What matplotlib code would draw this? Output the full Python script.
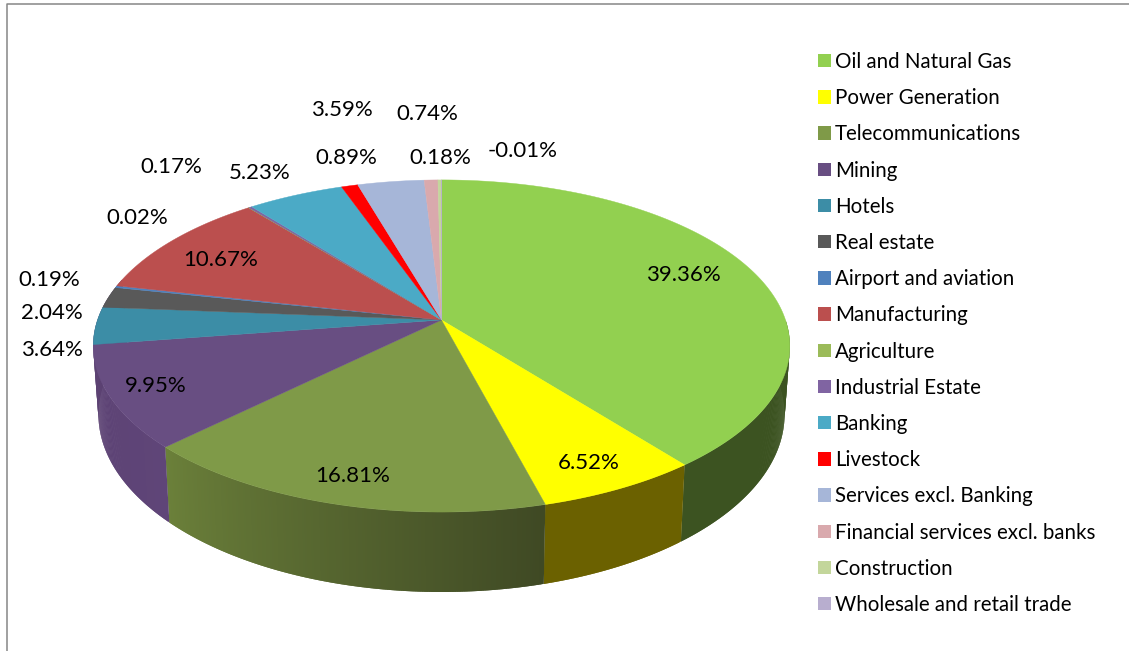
import matplotlib
matplotlib.use("Agg")
import matplotlib.pyplot as plt
import matplotlib.colors as mcolors
from matplotlib.patches import Patch
import numpy as np

plt.rcParams['font.family'] = ['Lato', 'DejaVu Sans']

sectors = ['Oil and Natural Gas', 'Power Generation', 'Telecommunications', 'Mining', 'Hotels',
           'Real estate', 'Airport and aviation', 'Manufacturing', 'Agriculture', 'Industrial Estate',
           'Banking', 'Livestock', 'Services excl. Banking', 'Financial services excl. banks',
           'Construction', 'Wholesale and retail trade']
shares = [39.36, 6.52, 16.81, 9.95, 3.64, 2.04, 0.19, 10.67, 0.02, 0.17, 5.23, 0.89, 3.59, 0.74, 0.18, -0.01]
colors = ['#92d050', '#ffff00', '#7f9a48', '#684e82', '#3c8da6', '#595959', '#4f81bd', '#bb4f4e',
          '#9bbb59', '#8064a2', '#4baac6', '#ff0000', '#a6b6d8', '#d9a9ad', '#c3d69b', '#b8aecf']
# wall colours of the four front slices, at their start and end (clockwise)
wall_start = ['#3c5321', '#6b6100', '#3f4924', '#5f4578']
wall_end = ['#3c5321', '#6b6100', '#6b803a', '#5a4070']
# label centres in the picture
label_xy = [(683, 275), (589, 463), (353, 476), (156, 386), (52, 350), (52, 313), (49, 280), (221, 260),
            (137, 218), (171, 167), (260, 173), (346, 158), (342, 110), (427, 114), (440, 158), (523, 151)]

# pie geometry, pixels
CX, CY = 441.5, 320
RX, RY, PERSP = 344, 162, 0.1565
DEPTH_Y, WALL_SX, WALL_SY = 592, 0.985, 1.07
WALL_FROM, WALL_TO = 90, 285


def top_edge(t):
    # t in degrees, clockwise from 12 o'clock
    u, v = np.sin(np.radians(t)), np.cos(np.radians(t))
    w = 1 + PERSP * v
    return CX + RX * u / w, CY - RY * v / w


def bottom_edge(t):
    x, y = top_edge(t)
    y_front = CY + RY / (1 - PERSP)
    return CX + WALL_SX * (x - CX), DEPTH_Y + WALL_SY * (y - y_front)


fig = plt.figure(figsize=(11.29, 6.51), dpi=100)
ax = fig.add_axes([0, 0, 1, 1])
ax.set_xlim(0, 1129)
ax.set_ylim(651, 0)
ax.axis('off')

# chart border
ax.plot([6.5, 6.5, 1129], [651, 3.5, 3.5], color='#868686', lw=1.1, zorder=1)

angles = np.cumsum([0] + [abs(s) for s in shares])
angles = angles / angles[-1] * 360

# walls, only the front slices show. mining runs on behind the left edge
for i in range(len(wall_start)):
    a0 = max(angles[i], WALL_FROM)
    a1 = WALL_TO if i == len(wall_start) - 1 else angles[i + 1]
    c0 = np.array(mcolors.to_rgb(wall_start[i]))
    c1 = np.array(mcolors.to_rgb(wall_end[i]))
    steps = max(2, int((a1 - a0) * 3))
    ts = np.linspace(a0, a1, steps + 1)
    for j in range(steps):
        col = c0 + (c1 - c0) * (j + 0.5) / steps
        # each strip runs under the next one, so no seams show
        t_pair = [ts[j], ts[min(j + 2, steps)]]
        xt, yt = top_edge(np.array(t_pair))
        xb, yb = bottom_edge(np.array(t_pair))
        ax.fill([xt[0], xt[1], xb[1], xb[0]], [yt[0], yt[1], yb[1], yb[0]], color=col, lw=0, zorder=2)

# top face
for i in range(len(shares)):
    ts = np.linspace(angles[i], angles[i + 1], max(3, int((angles[i + 1] - angles[i]) * 3)))
    xs, ys = top_edge(ts)
    ax.fill(np.r_[CX, xs], np.r_[CY, ys], color=colors[i], lw=0.3, zorder=3)

for s, (x, y) in zip(shares, label_xy):
    ax.text(x, y, f'{s:.2f}%', ha='center', va='center', fontsize=16, color='black', zorder=5)

handles = [Patch(facecolor=c, edgecolor='none') for c in colors]
ax.legend(handles, sectors, loc='upper left', bbox_to_anchor=(818 / 1129, 1 - 52 / 651), frameon=False,
          fontsize=14.8, handlelength=0.63, handleheight=0.63, handletextpad=0.2, labelspacing=0.788,
          borderpad=0, borderaxespad=0)

plt.savefig('out.png', dpi=100)
